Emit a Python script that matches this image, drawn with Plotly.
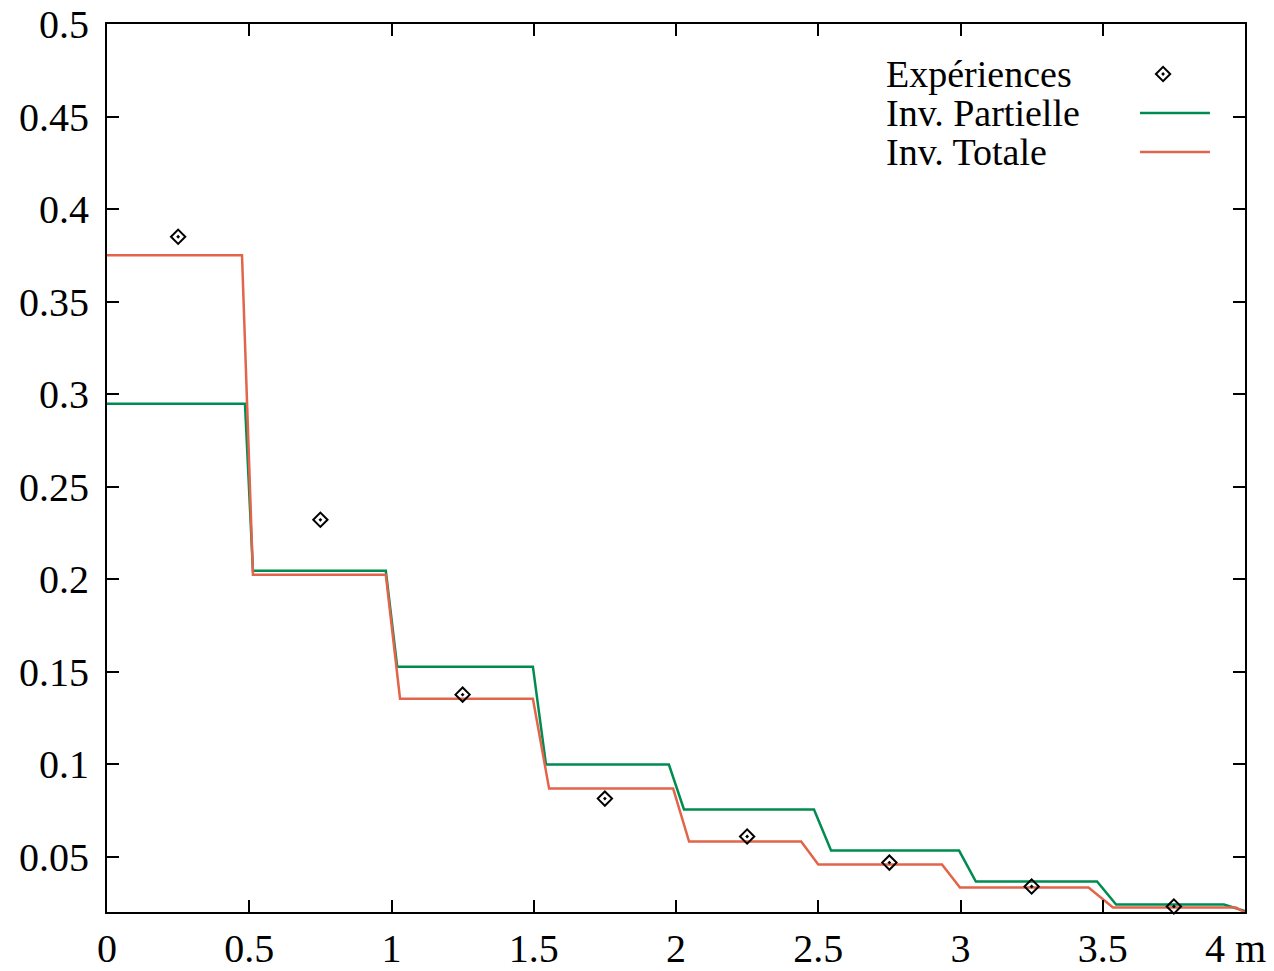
import plotly.graph_objects as go

# Experimental points
exp_x = [0.25, 0.75, 1.25, 1.75, 2.25, 2.75, 3.25, 3.75]
exp_y = [0.385, 0.232, 0.1375, 0.0813, 0.0608, 0.0467, 0.0338, 0.023]

# Inversion partielle (green)
part_x = [0, 0.485, 0.513, 0.98, 1.02, 1.497, 1.543, 1.975, 2.028, 2.485, 2.545,
          2.995, 3.054, 3.48, 3.547, 3.926, 4.0]
part_y = [0.2947, 0.2947, 0.2045, 0.2045, 0.1526, 0.1526, 0.0997, 0.0997, 0.0754,
          0.0754, 0.0532, 0.0532, 0.0365, 0.0365, 0.024, 0.024, 0.0205]

# Inversion totale (red)
tot_x = [0, 0.4745, 0.513, 0.98, 1.03, 1.497, 1.554, 1.99, 2.046, 2.44, 2.5,
         2.935, 2.998, 3.45, 3.536, 3.968, 4.0]
tot_y = [0.375, 0.375, 0.2023, 0.2023, 0.1353, 0.1353, 0.0867, 0.0867, 0.0581,
         0.0581, 0.0457, 0.0457, 0.0332, 0.0332, 0.0224, 0.0224, 0.0198]

x_ticks = [0, 0.5, 1, 1.5, 2, 2.5, 3, 3.5, 4]
x_ticktext = ["0", "0.5", "1", "1.5", "2", "2.5", "3", "3.5", "4 m"]
y_ticks = [0.05, 0.1, 0.15, 0.2, 0.25, 0.3, 0.35, 0.4, 0.45, 0.5]
y_ticktext = ["0.05", "0.1", "0.15", "0.2", "0.25", "0.3", "0.35", "0.4", "0.45", "0.5"]

legend_labels = ["Expériences", "Inv. Partielle", "Inv. Totale"]

GREEN = "#008c50"
RED = "#e2644a"
FONT = "Liberation Serif"
TICKSIZE = 40

fig = go.Figure()
fig.add_trace(go.Scatter(x=part_x, y=part_y, mode="lines",
                         line=dict(color=GREEN, width=2.5), showlegend=False))
fig.add_trace(go.Scatter(x=tot_x, y=tot_y, mode="lines",
                         line=dict(color=RED, width=2.5), showlegend=False))
fig.add_trace(go.Scatter(x=exp_x, y=exp_y, mode="markers",
                         marker=dict(symbol="diamond-open-dot", size=11, color="black",
                                     line=dict(width=2, color="black")),
                         showlegend=False, cliponaxis=False))

# Gnuplot-style key (text left, sample right) on an auxiliary [0,1] axis pair
fig.add_trace(go.Scatter(x=[0.928], y=[0.9437], mode="markers", xaxis="x2", yaxis="y2",
                         marker=dict(symbol="diamond-open-dot", size=11, color="black",
                                     line=dict(width=2, color="black")),
                         showlegend=False))
fig.add_trace(go.Scatter(x=[0.9077, 0.9692], y=[0.8998, 0.8998], mode="lines",
                         xaxis="x2", yaxis="y2", line=dict(color=GREEN, width=2.5),
                         showlegend=False))
fig.add_trace(go.Scatter(x=[0.9077, 0.9692], y=[0.8559, 0.8559], mode="lines",
                         xaxis="x2", yaxis="y2", line=dict(color=RED, width=2.5),
                         showlegend=False))

for lab, yy in zip(legend_labels, [0.9437, 0.8998, 0.8559]):
    fig.add_annotation(text=lab, x=0.6837, y=yy, xref="paper", yref="paper",
                       xanchor="left", yanchor="middle", showarrow=False, borderpad=0,
                       font=dict(family=FONT, size=38, color="black"))

# last x tick label ("4 m") sits slightly left of its tick, as in the original
fig.add_annotation(text=x_ticktext[-1], x=x_ticks[-1], y=0, xref="x", yref="paper",
                   xanchor="center", yanchor="top", xshift=-10, yshift=-13,
                   borderpad=0, showarrow=False,
                   font=dict(family=FONT, size=TICKSIZE, color="black"))

axis_common = dict(showline=True, linewidth=2, linecolor="black", mirror="ticks",
                   ticks="inside", ticklen=12, tickwidth=2, tickcolor="black",
                   showgrid=False, zeroline=False, automargin=False,
                   ticklabeloverflow="allow",
                   tickfont=dict(family=FONT, size=TICKSIZE, color="black"))

fig.update_layout(
    width=1274, height=971,
    margin=dict(l=107, r=29, t=24, b=59),
    paper_bgcolor="white", plot_bgcolor="white",
    xaxis=dict(range=[0, 4], tickvals=x_ticks, ticktext=x_ticktext[:-1] + [""],
               ticklabelstandoff=0, **axis_common),
    yaxis=dict(range=[0.02, 0.5], tickvals=y_ticks, ticktext=y_ticktext,
               ticklabelstandoff=8, **axis_common),
    xaxis2=dict(range=[0, 1], overlaying="x", visible=False, anchor="y2"),
    yaxis2=dict(range=[0, 1], overlaying="y", visible=False, anchor="x2"),
    showlegend=False,
)

fig.write_html("out.html")
